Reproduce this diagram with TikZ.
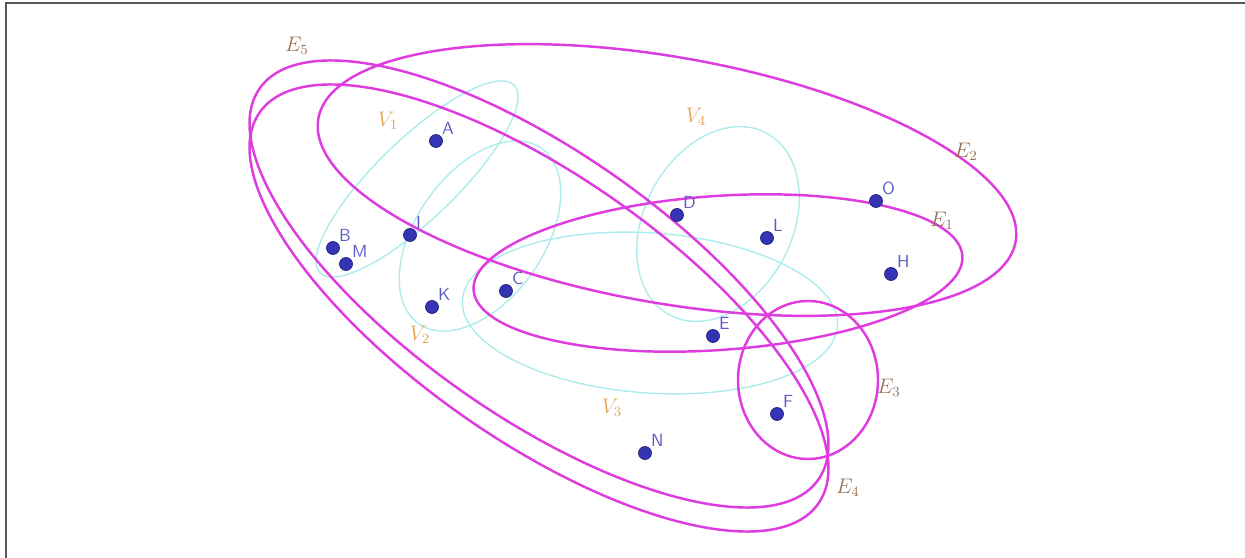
\documentclass[tikz,border=0pt]{standalone}
\usepackage{xcolor}
\definecolor{edgecol}{RGB}{222, 60, 222}
\definecolor{partcol}{RGB}{172, 236, 236}
\definecolor{dotcol}{RGB}{52, 52, 180}
\definecolor{ptlabcol}{RGB}{92, 92, 196}
\definecolor{vlabcol}{RGB}{228, 164, 84}
\definecolor{elabcol}{RGB}{152, 112, 82}
\usepackage{tikz}
\usetikzlibrary{positioning}

\begin{document}
\begin{tikzpicture}[x=0.2mm, y=-0.2mm,
    vertex/.style={circle, fill=dotcol, draw=dotcol!70!black, line width=0.4pt, inner sep=0pt, minimum size=2.6mm},
    ptlab/.style={font=\sffamily, text=ptlabcol, inner sep=0.5pt},
    hedge/.style={draw=edgecol, line width=1.4pt},
    part/.style={draw=partcol, line width=0.8pt},
    vlab/.style={text=vlabcol, font=\large},
    elab/.style={text=elabcol, font=\large}]

    \useasboundingbox (0,0) rectangle (1245,558);

    % Frame
    \draw[gray!70!black, line width=1.2pt] (6,558) -- (6,3) -- (1245,3);

    % Parts V1..V4
    \draw[part, shift={(417,179)}, rotate=44] (0,0) ellipse [x radius=135, y radius=40];
    \draw[part, shift={(480,236)}, rotate=55] (0,0) ellipse [x radius=107, y radius=64];
    \draw[part, shift={(650,313)}, rotate=-4] (0,0) ellipse [x radius=188, y radius=80];
    \draw[part, shift={(718,224)}, rotate=62] (0,0) ellipse [x radius=103, y radius=74];

    % Hyperedges E1..E5
    \draw[hedge, shift={(718,273)}, rotate=4] (0,0) ellipse [x radius=245, y radius=77];
    \draw[hedge, shift={(667,180)}, rotate=-10] (0,0) ellipse [x radius=354, y radius=123];
    \draw[hedge, shift={(808,380)}] (0,0) ellipse [x radius=70, y radius=79];
    \draw[hedge, shift={(539,308)}, rotate=-35] (0,0) ellipse [x radius=341, y radius=132];
    \draw[hedge, shift={(539,284)}, rotate=-35] (0,0) ellipse [x radius=341, y radius=132];

    % Vertices
    \node[vertex, label={[ptlab]above right:A}] (A) at (436,141) {};
    \node[vertex, label={[ptlab]above right:B}] (B) at (333,248) {};
    \node[vertex, label={[ptlab]above right:M}] (M) at (346,264) {};
    \node[vertex, label={[ptlab]above right:I}] (I) at (410,235) {};
    \node[vertex, label={[ptlab]above right:K}] (K) at (432,307) {};
    \node[vertex, label={[ptlab]above right:C}] (C) at (506,291) {};
    \node[vertex, label={[ptlab]above right:D}] (D) at (677,215) {};
    \node[vertex, label={[ptlab]above right:L}] (L) at (767,238) {};
    \node[vertex, label={[ptlab]above right:O}] (O) at (876,201) {};
    \node[vertex, label={[ptlab]above right:H}] (H) at (891,274) {};
    \node[vertex, label={[ptlab]above right:E}] (E) at (713,336) {};
    \node[vertex, label={[ptlab]above right:F}] (F) at (777,414) {};
    \node[vertex, label={[ptlab]above right:N}] (N) at (645,453) {};

    % Part labels
    \node[vlab] (lV1) at (388,121) {$V_1$};
    \node[vlab] (lV2) at (420,335) {$V_2$};
    \node[vlab] (lV3) at (612,408) {$V_3$};
    \node[vlab] (lV4) at (696,117) {$V_4$};

    % Edge labels
    \node[elab] (lE1) at (942,221) {$E_1$};
    \node[elab] (lE2) at (966,152) {$E_2$};
    \node[elab] (lE3) at (889,388) {$E_3$};
    \node[elab] (lE4) at (848,488) {$E_4$};
    \node[elab] (lE5) at (297,46) {$E_5$};

\end{tikzpicture}
\end{document}
